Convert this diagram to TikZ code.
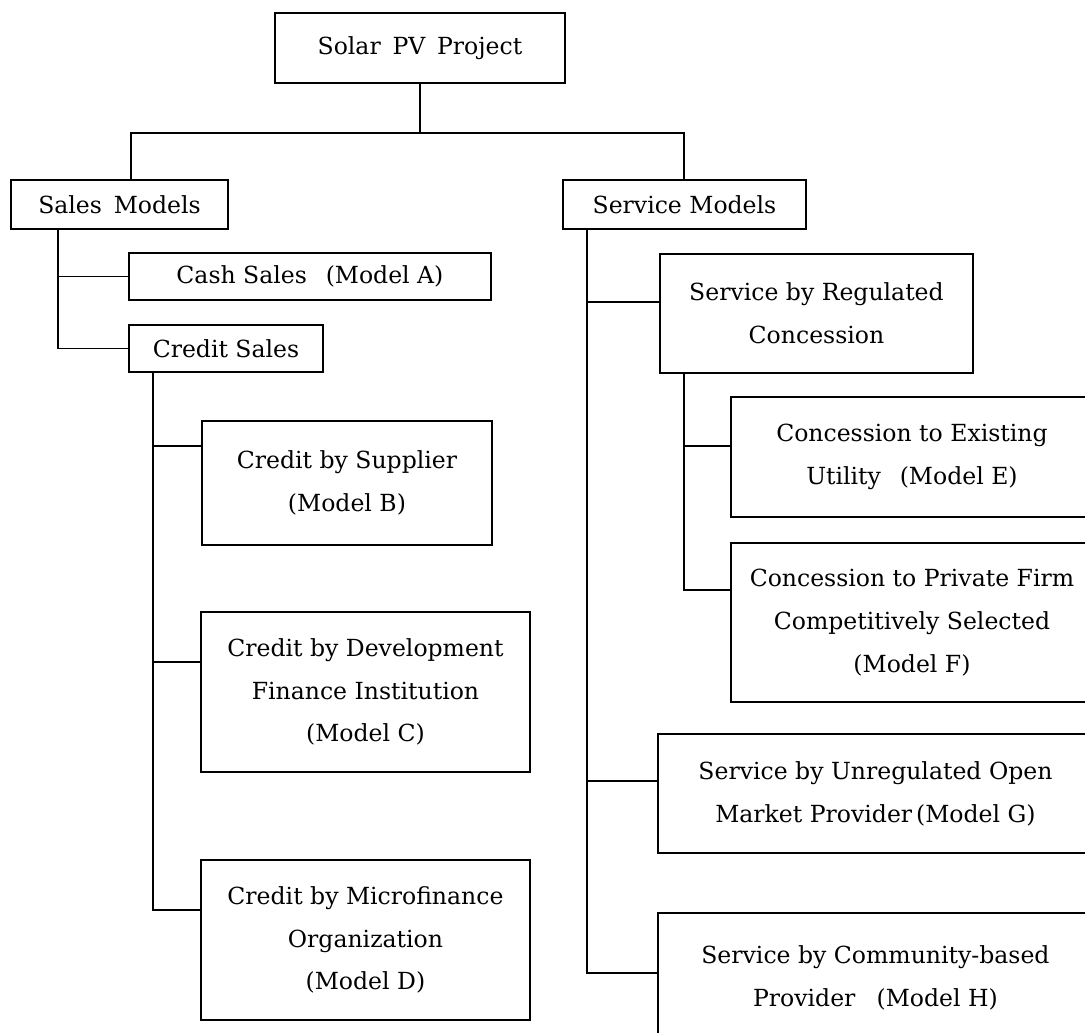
\documentclass[tikz,border=0pt]{standalone}
\usepackage{fontspec}
\setmainfont{DejaVu Serif}
\usetikzlibrary{positioning}
\tikzset{
  modelbox/.style={
    draw, line width=0.8pt, anchor=north west, inner sep=0pt, outer sep=0pt,
    align=center, font=\fontsize{13.4}{24.4}\selectfont
  },
  link/.style={line width=0.8pt}
}

\begin{document}
\begin{tikzpicture}[x=0.02cm, y=-0.02cm]
  \useasboundingbox (0,0) rectangle (1085,1032);
  \clip (0,0) rectangle (1085,1032);
  % root and the two families
  \node[modelbox, minimum width=5.8cm, minimum height=1.4cm] (solar) at (275,13) {Solar\enspace PV\enspace Project};
  \node[modelbox, minimum width=4.34cm, minimum height=0.98cm] (sales) at (11,180) {Sales\enspace Models};
  \node[modelbox, minimum width=4.86cm, minimum height=0.98cm] (service) at (563,180) {Service Models};
  % sales side
  \node[modelbox, minimum width=7.24cm, minimum height=0.94cm] (cash) at (129,253) {Cash Sales\hspace{0.8em}(Model A)};
  \node[modelbox, minimum width=3.88cm, minimum height=0.94cm] (credit) at (129,325) {Credit Sales};
  \node[modelbox, minimum width=5.8cm, minimum height=2.48cm] (crB) at (202,421) {Credit by Supplier\\(Model B)};
  \node[modelbox, minimum width=6.58cm, minimum height=3.2cm] (crC) at (201,612) {Credit by Development\\Finance Institution\\(Model C)};
  \node[modelbox, minimum width=6.58cm, minimum height=3.2cm] (crD) at (201,860) {Credit by Microfinance\\Organization\\(Model D)};
  % service side
  \node[modelbox, minimum width=6.26cm, minimum height=2.38cm] (regc) at (660,254) {Service by Regulated\\Concession};
  \node[modelbox, minimum width=7.24cm, minimum height=2.4cm] (conE) at (731,397) {Concession to Existing\\Utility\hspace{0.8em}(Model E)};
  \node[modelbox, minimum width=7.24cm, minimum height=3.18cm] (conF) at (731,543) {Concession to Private Firm\\Competitively Selected\\(Model F)};
  \node[modelbox, minimum width=8.7cm, minimum height=2.38cm] (srvG) at (658,734) {Service by Unregulated Open\\Market Provider\,(Model G)};
  \node[modelbox, minimum width=8.7cm, minimum height=2.6cm] (srvH) at (658,913) {Service by Community-based\\Provider\hspace{0.9em}(Model H)};

  \coordinate (busL) at (131,133);
  \coordinate (busR) at (684,133);
  \coordinate (salesT) at (58,229);
  \coordinate (creditT) at (153,372);
  \coordinate (serviceT) at (587,229);
  \coordinate (regT) at (684,373);

  \draw[link] (solar.south) -- (solar.south |- busL);
  \draw[link] (busL |- sales.north) -- (busL) -- (busR) -- (busR |- service.north);
  \foreach \n in {cash,credit}
    \draw[link] (salesT) |- (\n.west);
  \foreach \n/\d in {crB/0.5,crC/1,crD/1}
    \draw[link] (creditT) |- ([yshift=-\d cm]\n.north west);
  \foreach \n/\d in {regc/0.96,srvG/0.94,srvH/1.2}
    \draw[link] (serviceT) |- ([yshift=-\d cm]\n.north west);
  \foreach \n/\d in {conE/0.98,conF/0.94}
    \draw[link] (regT) |- ([yshift=-\d cm]\n.north west);
\end{tikzpicture}
\end{document}
